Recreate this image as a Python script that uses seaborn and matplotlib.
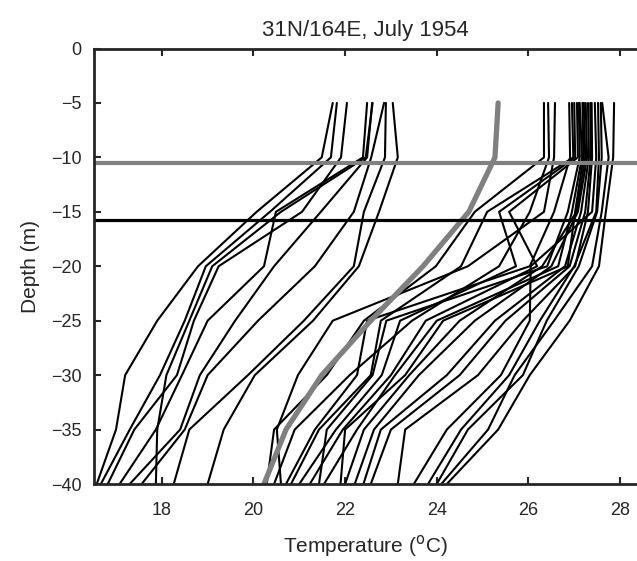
import matplotlib
matplotlib.use("Agg")
import matplotlib.pyplot as plt
import numpy as np
import pandas as pd
import seaborn as sns

# depths of every profile point (m)
depths = [-5, -10, -15, -20, -25, -30, -35, -40]

# cold profiles (left bundle)
cold_profiles = [
    [21.73, 21.49, 20.07, 18.79, 17.90, 17.20, 17.00, 16.58],
    [21.82, 21.69, 20.36, 18.96, 18.50, 17.96, 17.30, 16.67],
    [22.04, 21.91, 21.06, 19.24, 18.70, 18.33, 17.40, 16.82],
    [22.48, 22.39, 20.49, 20.23, 19.00, 18.44, 17.87, 17.08],
    [22.59, 22.48, 21.47, 20.45, 19.60, 18.83, 18.40, 17.30],
    [22.85, 22.57, 22.19, 21.34, 20.10, 19.00, 18.50, 17.56],
    [22.89, 22.87, 22.41, 22.19, 21.10, 19.88, 18.60, 18.26],
    [23.04, 23.15, 22.74, 22.30, 21.30, 20.03, 19.35, 19.00],
    [22.60, 22.45, 20.60, 19.10, 18.60, 18.10, 17.90, 17.87],
]

# warm profiles (right bundle)
warm_profiles = [
    [26.34, 26.34, 24.83, 23.98, 22.41, 21.60, 20.45, 20.29],
    [26.43, 26.45, 26.03, 25.36, 23.46, 22.10, 20.90, 20.45],
    [26.58, 26.56, 26.34, 24.68, 21.73, 20.97, 20.51, 20.60],
    [26.89, 26.91, 26.56, 26.03, 22.48, 22.26, 21.34, 20.71],
    [26.95, 26.98, 25.10, 24.53, 22.78, 22.56, 21.43, 20.82],
    [27.00, 27.02, 25.36, 25.73, 23.20, 22.80, 21.80, 21.00],
    [27.06, 27.08, 25.58, 26.19, 23.76, 23.00, 21.95, 21.23],
    [27.10, 27.12, 26.86, 26.41, 22.90, 22.60, 21.60, 21.43],
    [27.12, 27.17, 26.95, 26.65, 24.00, 23.09, 22.26, 21.54],
    [27.18, 27.20, 27.02, 26.86, 24.14, 23.31, 22.00, 21.90],
    [27.21, 27.24, 27.05, 26.30, 24.50, 23.40, 22.41, 22.00],
    [27.25, 27.28, 27.08, 26.50, 24.83, 23.61, 22.63, 22.21],
    [27.30, 27.32, 27.15, 26.80, 25.27, 24.22, 22.78, 22.40],
    [27.35, 27.36, 27.24, 26.90, 25.50, 24.50, 23.00, 22.56],
    [27.38, 27.39, 27.30, 27.02, 25.88, 24.90, 23.31, 23.15],
    [27.45, 27.48, 27.39, 26.05, 26.03, 25.40, 24.22, 23.50],
    [27.52, 27.54, 27.48, 27.00, 26.25, 25.58, 24.53, 23.81],
    [27.58, 27.60, 27.50, 27.10, 26.40, 25.88, 24.68, 24.00],
    [27.61, 27.75, 27.60, 27.39, 26.56, 25.70, 25.12, 24.10],
    [27.87, 27.85, 27.69, 27.54, 26.90, 26.03, 25.34, 24.22],
]

# mean profile (thick grey)
mean_profile = [25.34, 25.27, 24.70, 23.70, 22.56, 21.49, 20.71, 20.23]

# horizontal reference depths
grey_depth = -10.52
black_depth = -15.78

rows = []
for i, prof in enumerate(cold_profiles + warm_profiles):
    for d, t in zip(depths, prof):
        rows.append({"profile": i, "depth": d, "temp": t})
df = pd.DataFrame(rows)
mean_df = pd.DataFrame({"depth": depths, "temp": mean_profile})

sns.set_style("ticks")
plt.rcParams["font.family"] = ["Liberation Sans", "DejaVu Sans"]

fig = plt.figure(figsize=(6.37, 5.61), dpi=100)
ax = fig.add_axes([94 / 637, 77 / 561, 543 / 637, 435.5 / 561])

sns.lineplot(data=df, x="temp", y="depth", units="profile", estimator=None,
             sort=False, color="black", lw=1.5, ax=ax, legend=False)
sns.lineplot(data=mean_df, x="temp", y="depth", estimator=None, sort=False,
             color="#808080", lw=3.8, ax=ax, legend=False)
ax.axhline(grey_depth, color="#808080", lw=3.0)
ax.axhline(black_depth, color="black", lw=2.3)

ax.set_xlim(16.52, 28.37)
ax.set_ylim(-40, 0)
ax.set_xticks([18, 20, 22, 24, 26, 28])
ax.set_yticks([0, -5, -10, -15, -20, -25, -30, -35, -40])
ax.tick_params(direction="in", length=5, width=1.5, labelsize=13, pad=13,
               top=True, bottom=True, left=True, right=False)
ax.tick_params(axis="y", pad=9)
for side in ["left", "bottom", "top"]:
    ax.spines[side].set_linewidth(2)
ax.spines["right"].set_visible(False)

ax.set_xlabel("Temperature ($^{\\rm o}$C)", fontsize=15, labelpad=10)
ax.set_ylabel("Depth (m)", fontsize=15, labelpad=8)
ax.set_title("31N/164E, July 1954", fontsize=16, pad=9)

fig.savefig("out.png", dpi=100)
